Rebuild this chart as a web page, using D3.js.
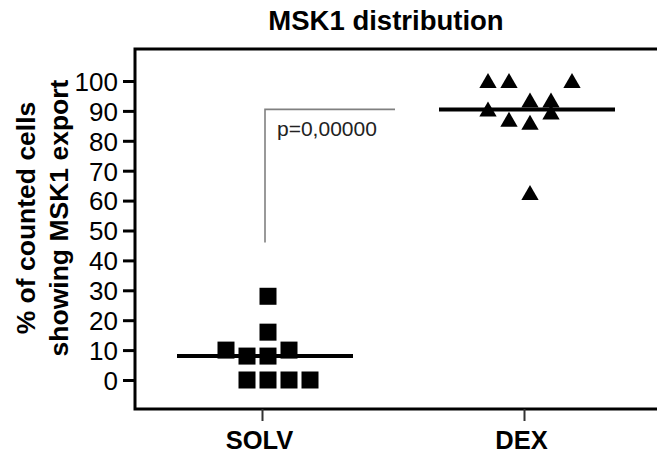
<!DOCTYPE html>
<html>
<head>
<meta charset="utf-8">
<script src="https://cdn.jsdelivr.net/npm/d3@7"></script>
<style>
	body { margin: 0; background: #fff; }
	text { font-family: Arial, "Liberation Sans", sans-serif; }
</style>
</head>
<body>
<div id="chart"></div>
<script>
	// data
	const categories = ['SOLV', 'DEX'];
	const solvValues = [28, 16, 10, 8, 8, 10, 0, 0, 0, 0];
	const solvCols = [0, 0, -2, -1, 0, 1, -1, 0, 1, 2];
	const dexValues = [100, 100, 100, 93.5, 93.5, 90.5, 89.5, 87, 86, 62.5];
	const dexCols = [-2, -1, 2, 0, 1, -2, 1, -1, 0, 0];
	const medians = [8, 90.5];
	const yTicks = [0, 10, 20, 30, 40, 50, 60, 70, 80, 90, 100];
	const pLabel = 'p=0,00000';
	const bracketLow = 46;

	const W = 657;
	const H = 456;
	const margin = { top: 49, right: -15, bottom: 47, left: 135 };
	const width = W - margin.left - margin.right;
	const height = H - margin.top - margin.bottom;

	const svg = d3.select('#chart').append('svg')
		.attr('width', W)
		.attr('height', H);

	svg.append('text')
		.attr('x', 386)
		.attr('y', 30)
		.style('font-size', '27.5px')
		.style('font-weight', 700)
		.style('text-anchor', 'middle')
		.text('MSK1 distribution');

	const chart = svg.append('g')
		.attr('transform', `translate(${margin.left}, ${margin.top})`);

	const x = d3.scaleLinear()
		.domain([0, 1])
		.range([127, 389]);
	const y = d3.scaleLinear()
		.domain([-9.7, 110.7])
		.range([height, 0]);

	const colStep = 21;
	const colShift = 6;

	// box
	chart.append('rect')
		.attr('x', 0)
		.attr('y', 0)
		.attr('width', width)
		.attr('height', height)
		.style('fill', 'none')
		.style('stroke', '#000')
		.style('stroke-width', 3);

	// y axis ticks
	const yAxisG = chart.append('g')
		.call(d3.axisLeft(y).tickValues(yTicks).tickSize(12).tickPadding(5));
	yAxisG.select('.domain').remove();
	yAxisG.selectAll('line').style('stroke-width', 3);
	yAxisG.selectAll('text')
		.style('font-size', '26px')
		.style('fill', '#000')
		.attr('dy', '0.36em');

	// x axis ticks
	const xAxisG = chart.append('g')
		.attr('transform', `translate(0, ${height})`)
		.call(d3.axisBottom(x).tickValues([0, 1]).tickSize(12).tickPadding(10)
			.tickFormat((d, i) => categories[i]));
	xAxisG.select('.domain').remove();
	xAxisG.selectAll('line').style('stroke-width', 2).style('stroke', '#333');
	xAxisG.selectAll('text')
		.attr('dx', -3)
		.style('font-size', '25.5px')
		.style('font-weight', 700)
		.style('fill', '#000');

	// y label
	const yLab = svg.append('text')
		.attr('transform', 'translate(0, 218) rotate(-90)')
		.style('font-size', '26.5px')
		.style('font-weight', 700)
		.style('text-anchor', 'middle');
	yLab.append('tspan').attr('x', 0).attr('y', 35).text('% of counted cells');
	yLab.append('tspan').attr('x', 0).attr('y', 68).text('showing MSK1 export');

	// significance bracket
	const bx0 = x(0) + 3;
	const bx1 = x(0.5) + 2;
	chart.append('path')
		.attr('d', `M${bx0},${y(bracketLow)}V${y(medians[1])}H${bx1}`)
		.style('fill', 'none')
		.style('stroke', '#808080')
		.style('stroke-width', 1.6);
	chart.append('text')
		.attr('x', bx0 + 12)
		.attr('y', y(medians[1]) + 27)
		.style('font-size', '21px')
		.style('fill', '#222')
		.text(pLabel);

	// median lines
	chart.selectAll('.median')
		.data(medians)
		.enter().append('line')
		.attr('class', 'median')
		.attr('x1', (d, i) => x(i) + 3 - 88)
		.attr('x2', (d, i) => x(i) + 3 + 88)
		.attr('y1', d => y(d))
		.attr('y2', d => y(d))
		.style('stroke', '#000')
		.style('stroke-width', 4);

	// SOLV squares
	const sq = 17;
	chart.selectAll('.sq')
		.data(solvValues)
		.enter().append('rect')
		.attr('class', 'sq')
		.attr('x', (d, i) => x(0) + colShift + solvCols[i] * colStep - sq / 2)
		.attr('y', d => y(d) - sq / 2)
		.attr('width', sq)
		.attr('height', sq)
		.style('fill', '#000');

	// DEX triangles
	const tri = d3.symbol().type(d3.symbolTriangle).size(130);
	chart.selectAll('.tri')
		.data(dexValues)
		.enter().append('path')
		.attr('class', 'tri')
		.attr('d', tri)
		.attr('transform', (d, i) => `translate(${x(1) + colShift + dexCols[i] * colStep}, ${y(d) + 2})`)
		.style('fill', '#000');
</script>
</body>
</html>
